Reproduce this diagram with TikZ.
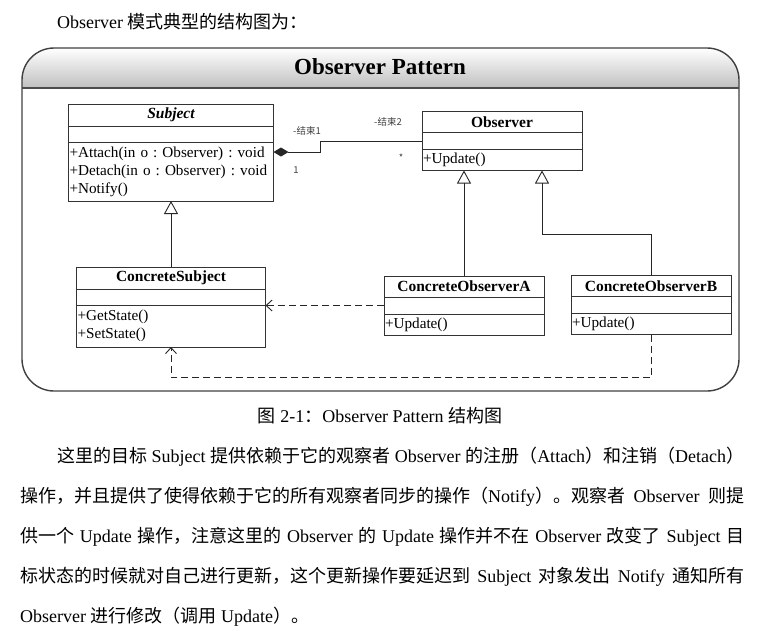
\documentclass[tikz,border=0pt]{standalone}
\usepackage{fontspec}
\setmainfont{Liberation Serif}
\newfontfamily\cjk{Noto Sans CJK SC}
\usetikzlibrary{positioning,arrows.meta}
\frenchspacing
\newcommand\zhtext[1]{{\cjk #1}}
\newcommand\zhbreaks{\XeTeXlinebreaklocale "zh"\XeTeXlinebreakskip=0pt plus 2pt\relax}

\tikzset{
  classname/.style={draw=black!80, line width=1pt, inner sep=0pt, outer sep=0pt,
    font=\fontsize{15.5}{18}\selectfont\bfseries},
  classpart/.style={draw=black!80, line width=1pt, inner sep=1pt, outer sep=0pt,
    font=\fontsize{15.2}{18}\selectfont, align=left},
  inherit/.style={line width=0.9pt, draw=black!85, -{Triangle[open,width=14pt,length=13pt]}},
  depend/.style={line width=0.9pt, draw=black!85, dash pattern=on 7pt off 4pt,
    -{Straight Barb[width=11pt,length=6pt]}},
  rolelabel/.style={font=\cjk\fontsize{9.5}{11}\selectfont, text=black!75, inner sep=0pt},
  bodytext/.style={font=\fontsize{18}{22}\selectfont\zhbreaks, inner sep=0pt, anchor=west},
}

\begin{document}
\begin{tikzpicture}[x=1pt,y=-1pt]
  \useasboundingbox (0,0) rectangle (760,641);

  \node[bodytext] (intro) at (57,22) {Observer \zhtext{模式典型的结构图为：}};

  % frame with shaded header
  \coordinate (frameNW) at (22,48);
  \coordinate (frameSE) at (739,391);
  \begin{scope}
    \clip[rounded corners=32pt] (frameNW) rectangle (frameSE);
    \shade[top color=white, bottom color=black!25] (frameNW) rectangle (739,88);
  \end{scope}
  \draw[line width=1.4pt, draw=black!75, rounded corners=32pt] (frameNW) rectangle (frameSE);
  \draw[line width=1.2pt, draw=black!70] (22,88) -- (739,88);
  \node[font=\fontsize{23}{26}\selectfont\bfseries] (title) at (380,67) {Observer Pattern};

  % Subject
  \node[classname, minimum width=205pt, minimum height=22pt, font=\fontsize{15.5}{18}\selectfont\bfseries\itshape] (subjectname) at (171,115) {Subject};
  \node[classpart, text width=203pt, minimum height=16pt, below=0pt of subjectname] (subjectattr) {};
  \node[classpart, text width=203pt, minimum height=59pt, below=0pt of subjectattr] (subjectops)
    {\mbox{+Attach(in o : Observer) : void}\\\mbox{+Detach(in o : Observer) : void}\\+Notify()};

  % ConcreteSubject
  \node[classname, minimum width=189pt, minimum height=22pt] (csubjectname) at (171,278) {ConcreteSubject};
  \node[classpart, text width=187pt, minimum height=16pt, below=0pt of csubjectname] (csubjectattr) {};
  \node[classpart, text width=187pt, minimum height=42pt, below=0pt of csubjectattr] (csubjectops)
    {+GetState()\\+SetState()};

  % Observer
  \node[classname, minimum width=160pt, minimum height=21pt] (observername) at (502,122) {Observer};
  \node[classpart, text width=158pt, minimum height=17pt, below=0pt of observername] (observerattr) {};
  \node[classpart, text width=158pt, minimum height=21pt, below=0pt of observerattr] (observerops) {+Update()};

  % ConcreteObserverA
  \node[classname, minimum width=160pt, minimum height=21pt] (obsAname) at (464,286.5) {ConcreteObserverA};
  \node[classpart, text width=158pt, minimum height=17pt, below=0pt of obsAname] (obsAattr) {};
  \node[classpart, text width=158pt, minimum height=21pt, below=0pt of obsAattr] (obsAops) {+Update()};

  % ConcreteObserverB
  \node[classname, minimum width=160pt, minimum height=21pt] (obsBname) at (651,286) {ConcreteObserverB};
  \node[classpart, text width=158pt, minimum height=17pt, below=0pt of obsBname] (obsBattr) {};
  \node[classpart, text width=158pt, minimum height=21pt, below=0pt of obsBattr] (obsBops) {+Update()};

  % generalizations
  \draw[inherit] (csubjectname.north) -- (subjectops.south);
  \draw[inherit] (obsAname.north) -- (obsAname.north |- observerops.south);
  \coordinate (bend) at (542,234);
  \draw[inherit] (obsBname.north) |- (bend) -- (bend |- observerops.south);

  % composition
  \coordinate (joint) at (320,152);
  \draw[line width=0.9pt, draw=black!85, {Diamond[length=15pt,width=9pt]}-]
    (subjectops.east |- joint) -- (joint) |- (observerattr.west);
  \node[rolelabel] (role1) at (307,131) {-结束1};
  \node[rolelabel] (mult1) at (296,170) {1};
  \node[rolelabel] (role2) at (388,122) {-结束2};
  \node[rolelabel] (mult2) at (401,158) {*};

  % dependencies
  \draw[depend] (obsAattr.west) -- (obsAattr.west -| csubjectops.east);
  \draw[depend] (obsBops.south) -- ++(0,43) -| (csubjectops.south);

  % caption and text
  \node[bodytext, anchor=center] (caption) at (380,416)
    {\zhtext{图} 2-1\zhtext{：}Observer Pattern \zhtext{结构图}};
  \node[bodytext] (line1) at (57,457) {\makebox[687pt][s]{\zhtext{这里的目标} Subject \zhtext{提供依赖于它的观察者} Observer \zhtext{的注册（}Attach\zhtext{）和注销（}Detach\zhtext{）}}};
  \node[bodytext] (line2) at (20,497) {\makebox[724pt][s]{\zhtext{操作，并且提供了使得依赖于它的所有观察者同步的操作（}Notify\zhtext{）。观察者} Observer \zhtext{则提}}};
  \node[bodytext] (line3) at (20,537) {\makebox[724pt][s]{\zhtext{供一个} Update \zhtext{操作，注意这里的} Observer \zhtext{的} Update \zhtext{操作并不在} Observer \zhtext{改变了} Subject \zhtext{目}}};
  \node[bodytext] (line4) at (20,577) {\makebox[724pt][s]{\zhtext{标状态的时候就对自己进行更新，这个更新操作要延迟到} Subject \zhtext{对象发出} Notify \zhtext{通知所有}}};
  \node[bodytext] (line5) at (20,617) {Observer \zhtext{进行修改（调用} Update\zhtext{）。}};
\end{tikzpicture}
\end{document}
